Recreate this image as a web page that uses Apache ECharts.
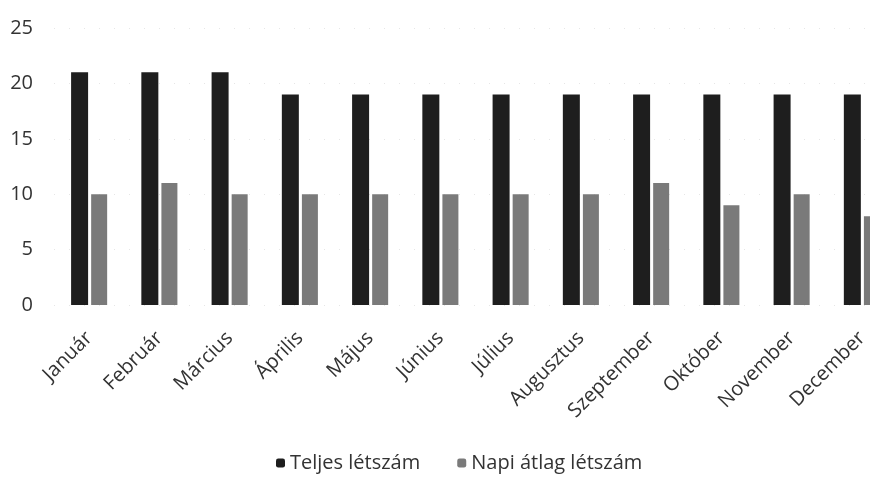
<!DOCTYPE html>
<html><head><meta charset="utf-8">
<script src="https://cdn.jsdelivr.net/npm/echarts@6/dist/echarts.min.js"></script>
<style>html,body{margin:0;padding:0;background:#fff}#c{width:870px;height:477px}</style>
</head><body><div id="c"></div>
<script>
const categories = ['Január','Február','Március','Április','Május','Június','Július','Augusztus','Szeptember','Október','November','December'];
const teljes = [21,21,21,19,19,19,19,19,19,19,19,19];
const napi = [10,11,10,10,10,10,10,10,11,9,10,8];
const yTicks = {min:0, max:25, interval:5};
const chart = echarts.init(document.getElementById('c'));
const font = "'Open Sans', 'Liberation Sans', sans-serif";
chart.setOption({
  animation:false,
  grid:{left:54, width:843, top:28, height:277, containLabel:false, outerBoundsMode:'none'},
  legend:{top:453, left:276, itemWidth:9, itemHeight:9, itemGap:37, padding:0,
    textStyle:{fontFamily:font, fontSize:20, color:'#333'},
    data:['Teljes létszám','Napi átlag létszám']},
  xAxis:{type:'category', data:categories,
    axisLine:{show:false}, axisTick:{show:false},
    axisLabel:{rotate:45, interval:0, margin:30, fontFamily:font, fontSize:20, color:'#333'}},
  yAxis:{type:'value', min:yTicks.min, max:yTicks.max, interval:yTicks.interval,
    axisLine:{show:false}, axisTick:{show:false},
    splitLine:{show:true, lineStyle:{color:'#e6e6e6', type:[1,14]}},
    axisLabel:{margin:21, align:'right', fontFamily:font, fontSize:20, color:'#333'}},
  series:[
    {name:'Teljes létszám', type:'bar', data:teljes, barWidth:17, barGap:'18%',
     itemStyle:{color:'#1e1e1e'}},
    {name:'Napi átlag létszám', type:'bar', data:napi, barWidth:16,
     itemStyle:{color:'#7a7a7a'}}
  ]
});
</script></body></html>
